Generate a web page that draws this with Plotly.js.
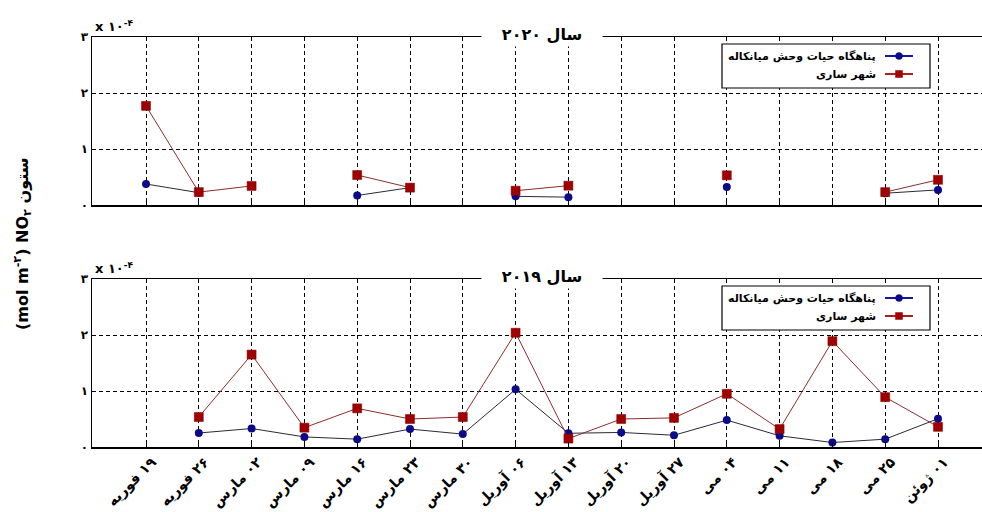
<!DOCTYPE html>
<html><head><meta charset="utf-8">
<script src="https://cdn.plot.ly/plotly-3.0.1.min.js"></script>
<style>html,body{margin:0;padding:0;overflow:hidden;background:#fff;width:982px;height:512px}#chart{width:995px;height:512px}</style>
</head><body><div id="chart"></div>
<script>
const categories = ["۱۹ فوریه","۲۶ فوریه","۰۲ مارس","۰۹ مارس","۱۶ مارس","۲۳ مارس","۳۰ مارس","۰۶ آوریل","۱۳ آوریل","۲۰ آوریل","۲۷ آوریل","۰۴ می","۱۱ می","۱۸ می","۲۵ می","۰۱ ژوئن"];
const seriesNames = ["پناهگاه حیات وحش میانکاله","شهر ساری"];
// values in units of 1e-4 mol m^-2
const miankaleh2020 = [0.375,0.22,null,null,0.17,0.31,null,0.155,0.14,null,null,0.32,null,null,0.21,0.27];
const sari2020      = [1.77,0.23,0.34,null,0.535,0.31,null,0.255,0.345,null,null,0.53,null,null,0.23,0.45];
const miankaleh2019 = [null,0.25,0.33,0.18,0.14,0.32,0.23,1.03,0.245,0.26,0.21,0.48,0.2,0.08,0.14,0.505];
const sari2019      = [null,0.535,1.65,0.345,0.69,0.5,0.535,2.04,0.15,0.5,0.52,0.95,0.32,1.89,0.89,0.36];
const yTickVals = [0,1,2,3];
const yTickText = ["۰","۱","۲","۳"];
const panelTitles = ["سال ۲۰۲۰","سال ۲۰۱۹"];

const W = 995, H = 512;
const px = x => x / W, py = y => 1 - y / H;
const FONT = "DejaVu Sans, Noto Sans, sans-serif";
const RLM = "\u200F";
const xIdx = categories.map((c,i)=>i);

function traces(blue, red, xa, ya){
  return [
    {x:xIdx, y:blue, xaxis:xa, yaxis:ya, type:'scatter', mode:'lines+markers', name:seriesNames[0], showlegend:false,
     line:{color:'#2a2a3a', width:1}, marker:{symbol:'circle', size:8, color:'#0b0b8a'}},
    {x:xIdx, y:red, xaxis:xa, yaxis:ya, type:'scatter', mode:'lines+markers', name:seriesNames[1], showlegend:false,
     line:{color:'#8b2e2e', width:1}, marker:{symbol:'square', size:9, color:'#a00000', line:{color:'#7a0000', width:0.5}}}
  ];
}
const data = [...traces(miankaleh2020, sari2020, 'x', 'y'), ...traces(miankaleh2019, sari2019, 'x2', 'y2')];

const xRange = [(92-146)/52.8, (995-146)/52.8];
const xBase = {range:xRange, tickvals:xIdx, showgrid:true, gridcolor:'#000', gridwidth:1, griddash:'4px,3px',
  showline:true, linecolor:'#000', linewidth:1.5, mirror:true, ticks:'inside', ticklen:5, tickcolor:'#000',
  zeroline:false, fixedrange:true, automargin:false, domain:[px(92),1]};
const yBase = {range:[0,3], tickvals:yTickVals, ticktext:yTickText, showgrid:true, gridcolor:'#000', gridwidth:1, griddash:'4px,3px',
  showline:true, linecolor:'#000', linewidth:1.5, mirror:true, ticks:'inside', ticklen:4, tickcolor:'#000',
  zeroline:false, automargin:false, tickfont:{family:FONT, size:12, color:'#000', weight:'bold'}};

const layout = {
  width:W, height:H, margin:{l:0,r:0,t:0,b:0}, paper_bgcolor:'#fff', plot_bgcolor:'#fff', showlegend:false,
  xaxis: Object.assign({}, xBase, {anchor:'y', showticklabels:false}),
  yaxis: Object.assign({}, yBase, {anchor:'x', domain:[py(205), py(37)]}),
  xaxis2: Object.assign({}, xBase, {anchor:'y2', ticktext:categories.map(c=>RLM+c), showticklabels:true, tickangle:-45,
    ticklabelshift:6, tickfont:{family:FONT, size:14, color:'#000', weight:'bold'}}),
  yaxis2: Object.assign({}, yBase, {anchor:'x2', domain:[py(447), py(279)]}),
  annotations:[], shapes:[]
};

// panel titles, scale notes, legends
[[37,0],[279,1]].forEach(([top,i])=>{
  layout.annotations.push({xref:'paper', yref:'paper', x:px(542), y:py(top-3), yanchor:'middle', text:'<b>'+panelTitles[i]+'</b>',
    showarrow:false, bgcolor:'#fff', width:118, height:22, font:{family:FONT, size:16, color:'#000'}});
  layout.annotations.push({xref:'paper', yref:'paper', x:px(93), y:py(top-11), xanchor:'left', yanchor:'middle', text:'<b>x ۱۰<sup>-۴</sup></b>',
    showarrow:false, font:{family:FONT, size:13, color:'#000'}});
  const lt = top + 7, lb = top + 51;
  layout.shapes.push({type:'rect', xref:'paper', yref:'paper', x0:px(722), x1:px(930), y0:py(lb), y1:py(lt),
    fillcolor:'#fff', line:{color:'#000', width:1.2}, layer:'above'});
  const rows = [[lt+12, '#1515a8', '#0b0b8a', 'circle', seriesNames[0]], [lt+30, '#b01e1e', '#a00000', 'rect', seriesNames[1]]];
  rows.forEach(([yy, lc, mc, sym, name])=>{
    layout.shapes.push({type:'line', xref:'paper', yref:'paper', x0:px(885), x1:px(913), y0:py(yy), y1:py(yy),
      line:{color:lc, width:2}, layer:'above'});
    const shp = {type: sym==='circle'?'circle':'rect', xref:'paper', yref:'paper', xsizemode:'pixel', ysizemode:'pixel',
      xanchor:px(899), yanchor:py(yy), x0:-3.5, x1:3.5, y0:-3.5, y1:3.5, fillcolor:mc, line:{color:mc, width:0.5}, layer:'above'};
    layout.shapes.push(shp);
    layout.annotations.push({xref:'paper', yref:'paper', x:px(878), y:py(yy), xanchor:'right', yanchor:'middle',
      text:'<b>'+name+'</b>', showarrow:false, font:{family:FONT, size:11, color:'#000'}});
  });
});

// shared y-axis title
layout.annotations.push({xref:'paper', yref:'paper', x:px(22), y:py(244), textangle:-90, showarrow:false,
  xanchor:'center', yanchor:'middle',
  text:'<b>(mol m<sup>-۲</sup>) NO<sub>۲</sub> ستون</b>', font:{family:FONT, size:16, color:'#000'}});

Plotly.newPlot('chart', data, layout, {displayModeBar:false, staticPlot:true});
</script></body></html>
